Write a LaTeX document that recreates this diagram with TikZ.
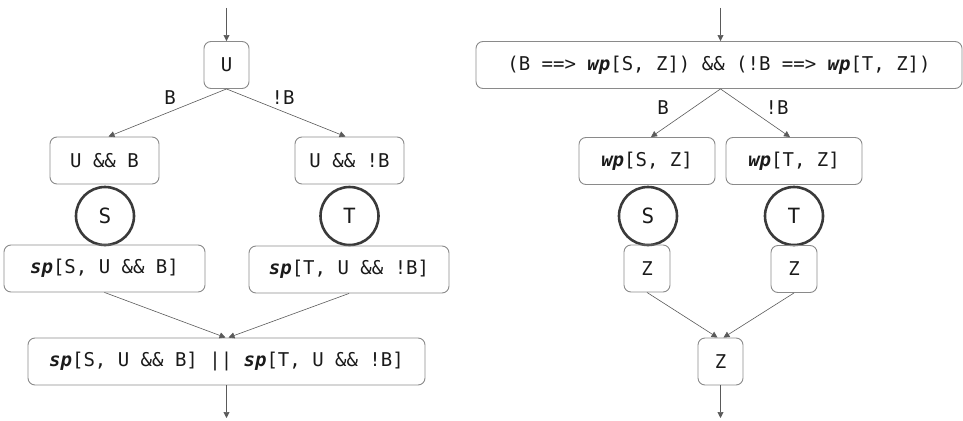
\documentclass[tikz,border=0pt]{standalone}
\usepackage{fontspec}
\setmainfont{DejaVu Sans Mono}
\usetikzlibrary{arrows.meta}
\definecolor{boxline}{HTML}{8A8A8A}
\definecolor{arrowline}{HTML}{5A5A5A}
\definecolor{circline}{HTML}{3A3A3A}
\definecolor{txt}{HTML}{1A1A1A}
\newcommand{\hw}[1]{{\bfseries\itshape #1}}
\tikzset{
  box/.style={draw=boxline, line width=0.9pt, rounded corners=7pt, minimum height=47pt, inner sep=0pt, text=txt, font=\fontsize{19}{22}\selectfont},
  stmt/.style={circle, draw=circline, line width=2.6pt, minimum size=58pt, inner sep=0pt, text=txt, font=\fontsize{21}{23}\selectfont},
  conn/.style={draw=arrowline, line width=0.6pt, -{Triangle[length=6pt,width=6pt]}},
  lbl/.style={text=txt, font=\fontsize{19}{22}\selectfont, inner sep=0pt}
}
\begin{document}
\begin{tikzpicture}[x=1pt,y=-1pt]
\useasboundingbox (0,0) rectangle (963,420);
% ---------- left ----------
\coordinate (lin) at (226.5,8);
\node[box, minimum width=45pt] (U) at (226.5,65) {U};
\node[box, minimum width=109pt] (UB) at (104.5,160.5) {U \&\& B};
\node[box, minimum width=109pt] (UnB) at (349.5,160.5) {U \&\& !B};
\node[stmt] (S1) at (105,216) {S};
\node[stmt] (T1) at (349.5,216) {T};
\node[box, minimum width=201pt] (spS) at (104.5,268.5) {\hw{sp}[S, U \&\& B]};
\node[box, minimum width=200pt] (spT) at (349,269.5) {\hw{sp}[T, U \&\& !B]};
\node[box, minimum width=397pt] (lbot) at (226.5,361.5) {\hw{sp}[S, U \&\& B] || \hw{sp}[T, U \&\& !B]};
\coordinate (lout) at (226.5,418);
\node[lbl] (lB) at (170,98) {B};
\node[lbl] (lnB) at (283,98) {!B};
\draw[conn] (lin) -- (U.north);
\draw[conn] (U.south) -- ([xshift=4pt]UB.north);
\draw[conn] (U.south) -- ([xshift=-4pt]UnB.north);
\draw[conn] (spS.south) -- ([xshift=-1pt]lbot.north);
\draw[conn] (spT.south) -- ([xshift=2pt]lbot.north);
\draw[conn] (lbot.south) -- (lout);
% ---------- right ----------
\coordinate (rin) at (720.5,8);
\node[box, minimum width=486pt] (top) at (719,65) {(B ==> \hw{wp}[S, Z]) \&\& (!B ==> \hw{wp}[T, Z])};
\node[box, minimum width=136pt] (wpS) at (647,161) {\hw{wp}[S, Z]};
\node[box, minimum width=136pt] (wpT) at (794,161) {\hw{wp}[T, Z]};
\node[stmt] (S2) at (648,216) {S};
\node[stmt] (T2) at (794,216) {T};
\node[box, minimum width=46pt] (Z1) at (647,268.5) {Z};
\node[box, minimum width=46pt] (Z2) at (794,269) {Z};
\node[box, minimum width=45pt] (Zb) at (720.5,361.5) {Z};
\coordinate (rout) at (720.5,418);
\node[lbl] (rB) at (663,108) {B};
\node[lbl] (rnB) at (777,108) {!B};
\draw[conn] (rin) -- (top.north -| rin);
\draw[conn] (top.south -| rin) -- ([xshift=4pt]wpS.north);
\draw[conn] (top.south -| rin) -- ([xshift=-4pt]wpT.north);
\draw[conn] (Z1.south) -- ([xshift=-3pt]Zb.north);
\draw[conn] (Z2.south) -- ([xshift=3pt]Zb.north);
\draw[conn] (Zb.south) -- (rout);
\end{tikzpicture}
\end{document}
